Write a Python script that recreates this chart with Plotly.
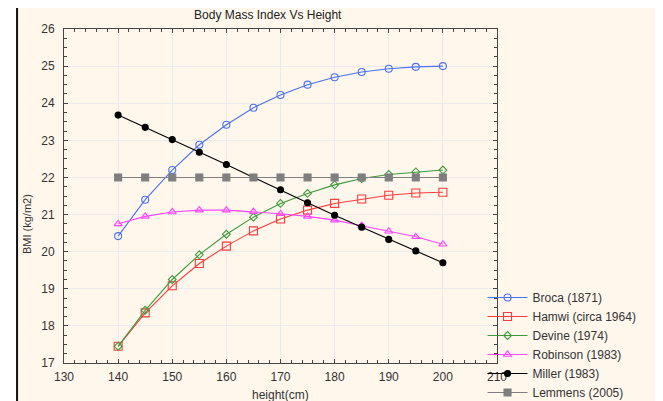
import plotly.graph_objects as go

heights = [140, 145, 150, 155, 160, 165, 170, 175, 180, 185, 190, 195, 200]

broca = [20.42, 21.4, 22.2, 22.88, 23.42, 23.88, 24.22, 24.5, 24.7, 24.84, 24.93, 24.98, 25.0]
hamwi = [17.45, 18.35, 19.08, 19.68, 20.15, 20.56, 20.88, 21.12, 21.3, 21.42, 21.52, 21.58, 21.6]
devine = [17.45, 18.42, 19.25, 19.92, 20.47, 20.93, 21.3, 21.57, 21.8, 21.97, 22.08, 22.15, 22.2]
robinson = [20.75, 20.95, 21.07, 21.12, 21.12, 21.08, 21.02, 20.95, 20.85, 20.7, 20.55, 20.4, 20.2]
miller = [23.68, 23.35, 23.02, 22.68, 22.35, 22.0, 21.67, 21.32, 20.98, 20.66, 20.33, 20.02, 19.7]
lemmens = [22.0] * 13

series_names = ["Broca (1871)", "Hamwi (circa 1964)", "Devine (1974)",
                "Robinson (1983)", "Miller (1983)", "Lemmens (2005)"]
series_values = [broca, hamwi, devine, robinson, miller, lemmens]
series_colors = ["#4a72f5", "#ff3b3b", "#3c9a3c", "#ff44ff", "#000000", "#7f7f7f"]
series_symbols = ["circle-open", "square-open", "diamond-open", "triangle-up-open", "circle", "square"]
series_sizes = [7, 8, 6, 7, 6, 7]

x_ticks = [130, 140, 150, 160, 170, 180, 190, 200, 210]
y_ticks = [17, 18, 19, 20, 21, 22, 23, 24, 25, 26]

FONT = "Liberation Sans, Arial, sans-serif"

fig = go.Figure()
for name, vals, col, sym, sz in zip(series_names, series_values, series_colors, series_symbols, series_sizes):
    fig.add_trace(go.Scatter(
        x=heights, y=vals, name=name, mode="lines+markers",
        line=dict(color=col, width=1.1),
        marker=dict(symbol=sym, size=sz, color=col, line=dict(color=col, width=1.1)),
    ))

# page offset of the figure inside the browser window (body margin)
DX, DY = 8, 8
W, H = 663, 401
# target screen pixels for the plot area
SL, SR, ST, SB = 64, 497.5, 29, 363
L, T = SL - DX, ST - DY
R = W - (SR - DX)
B = H - (SB - DY)
pw, ph = W - L - R, H - T - B

def px_x(s):
    return (s - DX - L) / pw

def px_y(s):
    return (H - B - (s - DY)) / ph

# cream frame with black border
fig.add_shape(type="rect", xref="paper", yref="paper",
              x0=px_x(17), x1=px_x(661), y0=px_y(420), y1=px_y(5),
              fillcolor="#fff7ec", line=dict(color="#111111", width=2), layer="below")

axis_common = dict(
    showline=True, linecolor="#444444", linewidth=1, mirror="ticks",
    ticks="inside", ticklen=4, tickcolor="#444444",
    showgrid=True, gridcolor="#ebebeb", gridwidth=1, zeroline=False,
    automargin=False,
    tickfont=dict(family=FONT, size=12, color="#333333"),
)

fig.update_xaxes(range=[130, 210], tickvals=x_ticks, ticklabelstandoff=3,
                 minor=dict(dtick=2, ticks="inside", ticklen=3, tickcolor="#444444", showgrid=False),
                 **axis_common)
fig.update_yaxes(range=[17, 26], tickvals=y_ticks, ticklabelstandoff=6,
                 minor=dict(dtick=0.25, ticks="inside", ticklen=3, tickcolor="#444444", showgrid=False),
                 **axis_common)

fig.add_annotation(text="height(cm)", xref="paper", yref="paper",
                   x=px_x(281), y=px_y(395), xanchor="center", yanchor="middle", showarrow=False,
                   font=dict(family=FONT, size=12, color="#333333"))
fig.add_annotation(text="BMI (kg/m2)", xref="paper", yref="paper",
                   x=px_x(27), y=px_y(224), xanchor="center", yanchor="middle",
                   showarrow=False, textangle=-90,
                   font=dict(family=FONT, size=11, color="#333333"))

fig.update_layout(
    width=W, height=H,
    margin=dict(l=L, r=R, t=T, b=B, autoexpand=False),
    paper_bgcolor="white", plot_bgcolor="white",
    title=dict(text="Body Mass Index Vs Height", x=px_x(268), xref="paper", xanchor="center",
               y=1 - (15 - DY) / H, yref="container", yanchor="middle",
               font=dict(family=FONT, size=12, color="#222222")),
    legend=dict(x=px_x(483), xanchor="left", y=px_y(407), yanchor="bottom",
                bgcolor="rgba(0,0,0,0)", itemwidth=40,
                font=dict(family=FONT, size=12, color="#333333")),
    showlegend=True,
)

fig.write_html("out.html")
